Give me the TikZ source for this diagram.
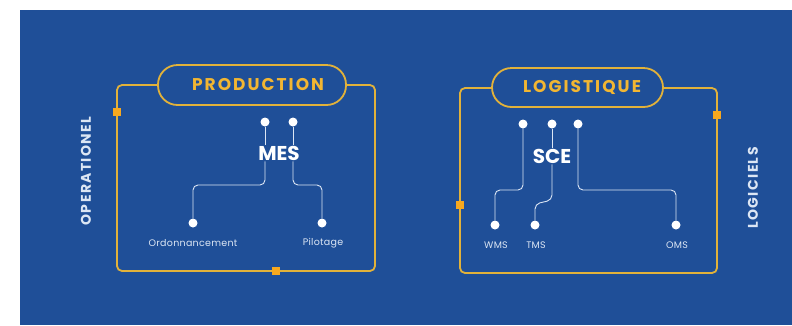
\documentclass[tikz,border=0pt]{standalone}
\usepackage{fontspec}
\setmainfont{Poppins}
\usetikzlibrary{positioning,calc}
\definecolor{bgblue}{HTML}{1F4F98}
\definecolor{goldline}{HTML}{E2B23A}
\definecolor{goldtext}{HTML}{F2B632}
\definecolor{orangesq}{HTML}{F7A81E}
\definecolor{wline}{HTML}{DCE6F4}
\tikzset{
  frame/.style={draw=goldline, line width=1.8pt, rounded corners=5pt},
  pill/.style={draw=goldline, line width=1.8pt, fill=bgblue, rounded corners=19.5pt, inner sep=0pt},
  pilltext/.style={text=goldtext, font=\bfseries\fontsize{17}{17}\selectfont\addfontfeatures{LetterSpace=12}},
  sq/.style={fill=orangesq, minimum size=8pt, inner sep=0pt},
  dot/.style={circle, fill=white, minimum size=9pt, inner sep=0pt},
  hub/.style={text=white, font=\bfseries\fontsize{20}{20}\selectfont, inner sep=1pt},
  lab/.style={text=wline, font=\fontsize{9.5}{10}\selectfont\addfontfeatures{LetterSpace=3}},
  side/.style={text=wline, font=\bfseries\fontsize{14}{14}\selectfont\addfontfeatures{LetterSpace=10}, rotate=90},
  wire/.style={draw=wline, line width=0.9pt, rounded corners=5pt},
}
\begin{document}
\begin{tikzpicture}[x=1pt,y=-1pt]
\useasboundingbox (0,0) rectangle (792,325);
\fill[white] (0,0) rectangle (792,325);
\fill[bgblue] (20,10) rectangle (792,325);

% ---------- PRODUCTION ----------
\draw[frame] (117,85) rectangle (375,271);
\node[pill, minimum width=188pt, minimum height=40pt] (ppill) at (252,85) {};
\node[pilltext] (ptext) at (258,85) {PRODUCTION};
\node[sq] (psq1) at (117,112) {};
\node[sq] (psq2) at (276,271) {};

\node[dot] (md1) at (265,122) {};
\node[dot] (md2) at (293,122) {};
\node[hub] (mes) at (279,153) {MES};
\node[dot] (ord) at (193,223) {};
\node[dot] (pil) at (322,223) {};
\node[lab] (ordl) at (193,243) {Ordonnancement};
\node[lab] (pill) at (323,243) {Pilotage};

\draw[wire] (md1) -- (md1 |- mes.north);
\draw[wire] (md2) -- (md2 |- mes.north);
\draw[wire] (md1 |- mes.south) -- (265,185) -- (193,185) -- (ord);
\draw[wire] (md2 |- mes.south) -- (293,185) -- (322,185) -- (pil);

\node[side] (oper) at (86,171) {OPERATIONEL};

% ---------- LOGISTIQUE ----------
\draw[frame] (460,88) rectangle (717,273);
\node[pill, minimum width=171pt, minimum height=39pt] (lpill) at (577.5,87.5) {};
\node[pilltext] (ltext) at (582,87.5) {LOGISTIQUE};
\node[sq] (lsq1) at (717,115) {};
\node[sq] (lsq2) at (460,205) {};

\node[dot] (sd1) at (523,124) {};
\node[dot] (sd2) at (552,124) {};
\node[dot] (sd3) at (578,124) {};
\node[hub] (sce) at (552,156) {SCE};
\node[dot] (wms) at (495,225) {};
\node[dot] (tms) at (535,225) {};
\node[dot] (oms) at (676,225) {};
\node[lab] (wmsl) at (496,245) {WMS};
\node[lab] (tmsl) at (536,245) {TMS};
\node[lab] (omsl) at (677,245) {OMS};

\draw[wire] (sd1) -- (523,190) -- (495,190) -- (wms);
\draw[wire] (sd2) -- (sce.north);
\draw[wire] (sce.south) -- (552,200) -- (535,204) -- (tms);
\draw[wire] (sd3) -- (578,190) -- (676,190) -- (oms);

\node[side] (logi) at (753,188) {LOGICIELS};
\end{tikzpicture}
\end{document}
